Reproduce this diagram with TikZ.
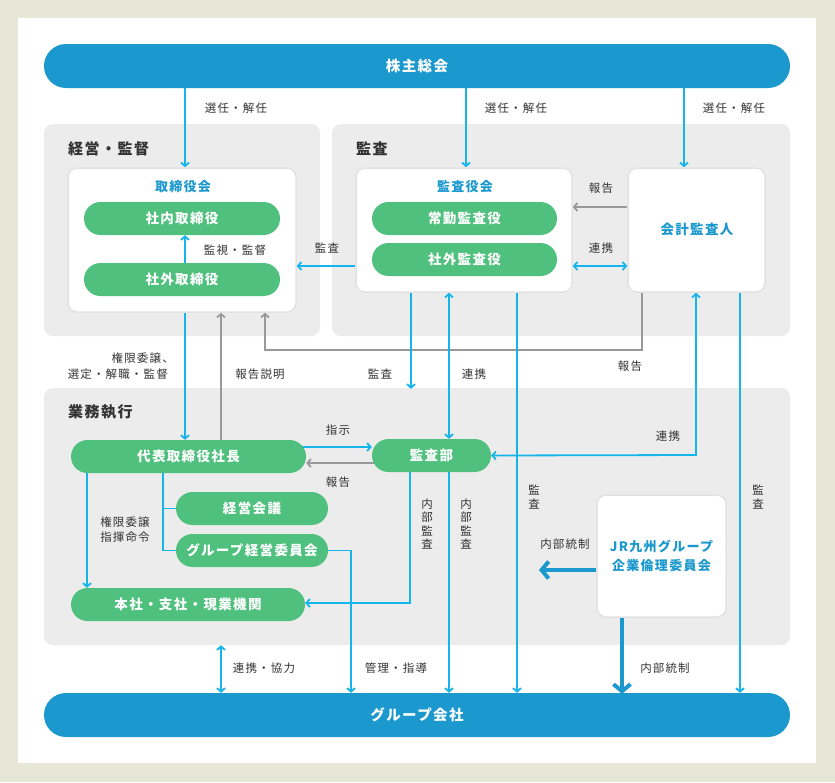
\documentclass[tikz,border=0pt]{standalone}
\usepackage{fontspec}
\setmainfont{Noto Sans CJK JP}
\newfontfamily\jpf[LetterSpace=10]{Noto Sans CJK JP}
\usetikzlibrary{arrows.meta}
\definecolor{beige}{HTML}{E7E7D7}
\definecolor{barblue}{HTML}{1B98CD}
\definecolor{cyanln}{HTML}{13B5EA}
\definecolor{grn}{HTML}{4FC07D}
\definecolor{panelg}{HTML}{ECECEC}
\definecolor{grayln}{HTML}{999999}
\definecolor{boxbd}{HTML}{E2E2E2}
\definecolor{txt}{HTML}{333333}
\pgfdeclarelayer{bg}\pgfdeclarelayer{conn}\pgfsetlayers{bg,conn,main}
\begin{document}
\begin{tikzpicture}[x=1pt,y=-1pt,
  bar/.style={fill=barblue,rounded corners=22pt,minimum width=746pt,minimum height=44pt,inner sep=0pt,text=white,font=\jpf\bfseries\fontsize{14.5}{16}\selectfont},
  panel/.style={fill=panelg,rounded corners=9pt,inner sep=0pt},
  wbox/.style={fill=white,draw=boxbd,line width=1.5pt,rounded corners=9pt,inner sep=0pt},
  pill/.style={fill=grn,rounded corners=16.5pt,minimum height=33pt,inner sep=0pt,text=white,font=\jpf\bfseries\fontsize{13.5}{15}\selectfont},
  btitle/.style={text=barblue,inner sep=0pt,font=\jpf\bfseries\fontsize{13}{19}\selectfont,align=center},
  ptitle/.style={text=txt,inner sep=0pt,anchor=west,font=\jpf\bfseries\fontsize{15}{17}\selectfont},
  lbl/.style={text=txt,inner sep=0pt,font=\jpf\fontsize{11.5}{13.5}\selectfont},
  vlbl/.style={lbl,align=center},
  bl/.style={draw=cyanln,line width=1.8pt,>={Straight Barb[length=3.5pt,width=8pt]}},
  gl/.style={draw=grayln,line width=1.8pt,>={Straight Barb[length=3.5pt,width=8pt]}},
  thick/.style={draw=barblue,line width=4pt,>={Straight Barb[length=7pt,width=17pt]}}
]
\useasboundingbox (0,0) rectangle (835,782);
\begin{pgfonlayer}{bg}
\fill[beige] (0,0) rectangle (835,782);
\fill[white] (18,18) rectangle (816,763);
\node[panel,minimum width=276pt,minimum height=212pt] (p1) at (182,230) {};
\node[panel,minimum width=458pt,minimum height=212pt] (p2) at (561,230) {};
\node[panel,minimum width=746pt,minimum height=257pt] (p3) at (417,516.5) {};
\end{pgfonlayer}

% bars
\node[bar] (kabu) at (417,66) {株主総会};
\node[bar] (group) at (417,715) {グループ会社};

% panel titles
\node[ptitle] (t1) at (68,149) {経営・監督};
\node[ptitle] (t2) at (356,149) {監査};
\node[ptitle] (t3) at (68,412) {業務執行};

% white boxes
\node[wbox,minimum width=228pt,minimum height=144pt] (torikai) at (182,240) {};
\node[btitle] (torikaiT) at (183,187) {取締役会};
\node[pill,minimum width=196pt] (shanai) at (182,218.5) {社内取締役};
\node[pill,minimum width=196pt] (shagai) at (182,279.5) {社外取締役};
\draw[bl,->] (shagai.north -| 185,0) -- (shanai.south -| 185,0);

\node[wbox,minimum width=216pt,minimum height=124pt] (kansayakukai) at (464,230) {};
\node[btitle] (kansayakukaiT) at (465,187) {監査役会};
\node[pill,minimum width=185pt] (joukin) at (464.5,218.5) {常勤監査役};
\node[pill,minimum width=185pt] (shagaikansa) at (464.5,259.5) {社外監査役};

\node[wbox,minimum width=137pt,minimum height=124pt] (kaikei) at (696.5,230) {};
\node[btitle,font=\jpf\bfseries\fontsize{13.5}{19}\selectfont] (kaikeiT) at (697,229) {会計監査人};

\node[pill,minimum width=235pt] (shacho) at (188.5,456.5) {代表取締役社長};
\node[pill,minimum width=119pt] (kansabu) at (431.5,455.5) {監査部};
\node[pill,minimum width=152pt] (keiei) at (252,508.5) {経営会議};
\node[pill,minimum width=152pt] (gkeiei) at (252,550.5) {グループ経営委員会};
\node[pill,minimum width=234pt] (honsha) at (188,604.5) {本社・支社・現業機関};

\node[wbox,minimum width=129pt,minimum height=122pt] (jr) at (661.5,556) {};
\node[btitle] (jrT) at (661.5,556) {JR九州グループ\\企業倫理委員会};

\coordinate (rep) at (265,350);
\coordinate (repR) at (642,350);
\coordinate (renR) at (696,455);
\coordinate (toseiEnd) at (539,570);

\begin{pgfonlayer}{conn}
% from 株主総会
\draw[bl,->] (kabu.south -| 185,0) -- (torikai.north -| 185,0);
\draw[bl,->] (kabu.south -| 466,0) -- (kansayakukai.north -| 466,0);
\draw[bl,->] (kabu.south -| 684,0) -- (kaikei.north -| 684,0);
% 監査 to 取締役会
\draw[bl,->] (kansayakukai.west |- 0,266) -- (torikai.east |- 0,266);
% 会計監査人 <-> 監査役会
\draw[gl,->] (kaikei.west |- 0,207) -- (kansayakukai.east |- 0,207);
\draw[bl,<->] (kansayakukai.east |- 0,266) -- (kaikei.west |- 0,266);
% 取締役会 <-> 社長
\draw[bl,->] (torikai.south -| 185,0) -- (shacho.north -| 185,0);
\draw[gl,->] (shacho.north -| 221,0) -- (torikai.south -| 221,0);
\draw[gl,->] (kaikei.south -| repR) -- (repR) -- (rep) -- (torikai.south -| rep);
% 監査役会 downward
\draw[bl,->] (kansayakukai.south -| 411,0) -- ([yshift=-1pt]p3.north -| 411,0);
\draw[bl,<->] (kansayakukai.south -| 449,0) -- (kansabu.north -| 449,0);
\draw[bl,->] (kansayakukai.south -| 517,0) -- (group.north -| 517,0);
% 会計監査人
\draw[bl,<->] (kansabu.east) -- (renR) -- (kaikei.south -| renR);
\draw[bl,->] (kaikei.south -| 740,0) -- (group.north -| 740,0);
% 社長 <-> 監査部
\draw[bl,->] ([xshift=-8pt]shacho.east |- 0,447) -- (kansabu.west |- 0,447);
\draw[gl,->] ([xshift=8pt]kansabu.west |- 0,463) -- (shacho.east |- 0,463);
% 社長 downward
\draw[bl] (shacho.south -| 163,0) |- (gkeiei.west);
\draw[bl] (keiei.west -| 163,0) -- (keiei.west);
\draw[bl,->] (shacho.south -| 87,0) -- (honsha.north -| 87,0);
% 監査部 downward
\draw[bl,->] (kansabu.south -| 410,0) |- (honsha.east |- 0,603);
\draw[bl,->] (kansabu.south -| 449,0) -- (group.north -| 449,0);
% グループ経営委員会
\draw[bl,->] ([xshift=-6pt]gkeiei.east) -| (group.north -| 351,0);
% 連携・協力
\draw[bl,<->] (p3.south -| 221,0) -- (group.north -| 221,0);
% JR
\draw[thick,->] (jr.west |- 0,570) -- (toseiEnd);
\draw[thick,->] (jr.south -| 622,0) -- ([yshift=-1pt]group.north -| 622,0);
\end{pgfonlayer}

% labels
\node[lbl] (l1) at (236,108) {選任・解任};
\node[lbl] (l2) at (516,108) {選任・解任};
\node[lbl] (l3) at (734,108) {選任・解任};
\node[lbl] (l4) at (235,250) {監視・監督};
\node[lbl] (l5) at (327,248) {監査};
\node[lbl] (l6) at (601,188) {報告};
\node[lbl] (l7) at (601,248) {連携};
\node[lbl,anchor=east] (l8) at (174,358) {権限委譲、};
\node[lbl,anchor=east] (l9) at (168,374) {選定・解職・監督};
\node[lbl] (l10) at (260,374) {報告説明};
\node[lbl] (l11) at (630,366) {報告};
\node[lbl] (l12) at (380,374) {監査};
\node[lbl] (l13) at (474,374) {連携};
\node[lbl] (l14) at (338,430) {指示};
\node[lbl] (l15) at (338,482) {報告};
\node[lbl] (l16) at (668,436) {連携};
\node[lbl] (l17) at (125,522) {権限委譲};
\node[lbl] (l18) at (125,537) {指揮命令};
\node[vlbl] (l19) at (427,524) {内\\部\\監\\査};
\node[vlbl] (l20) at (466,524) {内\\部\\監\\査};
\node[vlbl] (l21) at (534,497) {監\\査};
\node[vlbl] (l22) at (758,497) {監\\査};
\node[lbl] (l23) at (565,544) {内部統制};
\node[lbl] (l24) at (264,668) {連携・協力};
\node[lbl] (l25) at (396,668) {管理・指導};
\node[lbl] (l26) at (665,668) {内部統制};
\end{tikzpicture}
\end{document}
